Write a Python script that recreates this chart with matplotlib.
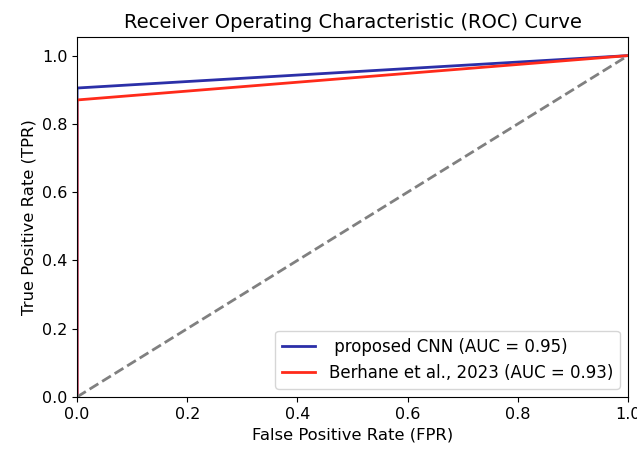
import matplotlib
matplotlib.use("Agg")
import matplotlib.pyplot as plt

# ROC points
fpr_cnn = [0.0, 0.0, 1.0]
tpr_cnn = [0.0, 0.905, 1.0]
fpr_ref = [0.0, 0.0, 1.0]
tpr_ref = [0.0, 0.87, 1.0]
auc_cnn = 0.95
auc_ref = 0.93
label_cnn = f" proposed CNN (AUC = {auc_cnn:.2f})"
label_ref = f"Berhane et al., 2023 (AUC = {auc_ref:.2f})"

fig = plt.figure(figsize=(6.37, 4.49), dpi=100)
ax = fig.add_axes([0.121, 0.116, 0.865, 0.802])

ax.plot(fpr_cnn, tpr_cnn, color="#2b2fa8", lw=2, label=label_cnn)
ax.plot(fpr_ref, tpr_ref, color="#ff2a1a", lw=2, label=label_ref)
ax.plot([0, 1], [0, 1], color="gray", lw=2, linestyle="--")

ax.set_xlim(0, 1)
ax.set_ylim(0, 1.055)
ax.set_xticks([0, 0.2, 0.4, 0.6, 0.8, 1.0])
ax.set_yticks([0, 0.2, 0.4, 0.6, 0.8, 1.0])
ax.tick_params(labelsize=11.5)
ax.set_xlabel("False Positive Rate (FPR)", fontsize=11.8)
ax.set_ylabel("True Positive Rate (TPR)", fontsize=11.8)
ax.set_title("Receiver Operating Characteristic (ROC) Curve", fontsize=14)
ax.legend(loc="lower right", fontsize=12)

fig.savefig("out.png", dpi=100)
